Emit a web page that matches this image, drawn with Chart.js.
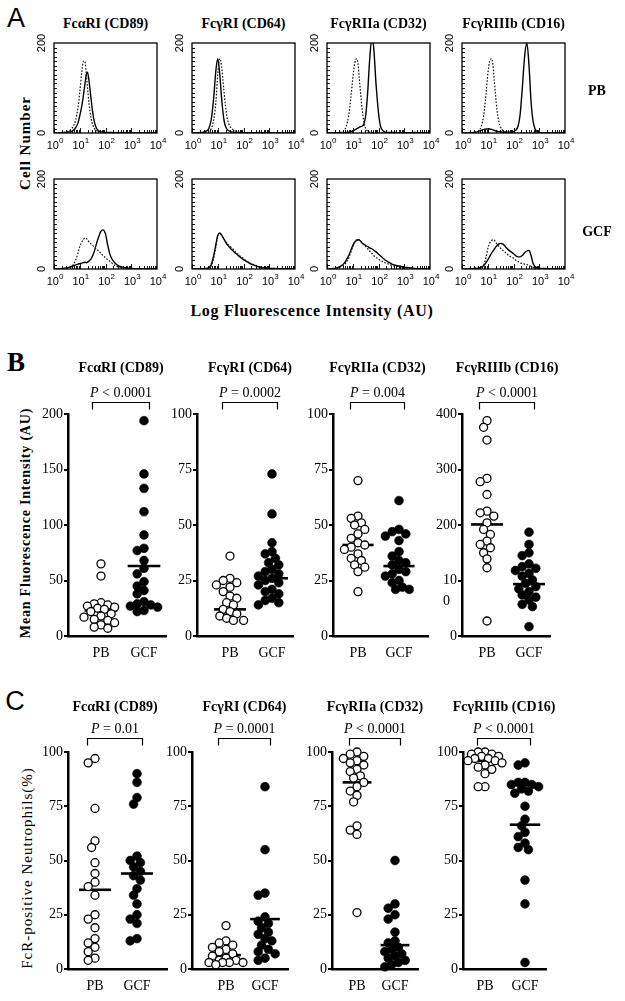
<!DOCTYPE html>
<html><head><meta charset="utf-8">
<script src="https://cdn.jsdelivr.net/npm/chart.js@4.4.1/dist/chart.umd.min.js"></script>
<style>
html,body{margin:0;padding:0;background:#fff;}
#page{position:relative;width:625px;height:1001px;overflow:hidden;background:#fff;}
#page canvas{position:absolute;}
.lbl{position:absolute;transform:translate(-50%,-50%);white-space:nowrap;font-family:'Liberation Serif',serif;color:#000;line-height:1;}
.rot{transform:translate(-50%,-50%) rotate(-90deg);}
</style></head><body><div id="page"></div>
<script>
// ---------------- DATA ----------------
const receptorTitles = ['FcαRI (CD89)', 'FcγRI (CD64)', 'FcγRIIa (CD32)', 'FcγRIIIb (CD16)'];
const groups = ['PB', 'GCF'];

// Panel A: histogram channels (AU, log scale) and cell counts
const histChannels = [1,1.3,1.7,2.2,2.8,3.5,4.5,5.6,7,8.5,10,12,14,16,18,20,23,27,32,38,45,55,65,80,100,120,150,180,220,270,330,400,480,580,700,850,1000,1500,2500,5000,10000];
const histYTicks = [0, 200];
const histXTicks = [1, 10, 100, 1000, 10000];
const histXTickExp = ['0','1','2','3','4'];

const histPB_CD89_ctrl  = [0,0,0,1,2,4,8,15,30,55,90,135,160,158,130,100,65,35,18,9,5,3,2,1,1,1,1,0.5,1,0.5,0.5,1,0.5,0.5,0,0.5,0,0,0,0,0];
const histPB_CD89_stain = [0,0,0,0,1,2,3,6,12,22,38,60,85,110,130,135,115,80,45,22,10,5,3,2,1,1,1,1,0.5,1,0.5,1,0.5,0.5,0,0.5,0,0,0,0,0];
const histPB_CD64_ctrl  = [0,0,0,0.5,1,2,4,10,30,70,130,165,150,115,85,60,35,20,12,8,5,3,2,2,1,1,1,1,1,1,1,2,1,1,1,0.5,0.5,0,0,0,0];
const histPB_CD64_stain = [0,0,0.5,1,2,4,10,30,80,140,165,130,80,45,25,15,8,5,3,2,1,1,1,1,0.5,0.5,0.5,0.5,0.5,0.5,0.5,1,0.5,0.5,0.5,0.5,0.5,0,0,0,0];
const histPB_CD32_ctrl  = [0,0,0,0.5,1,2,5,15,40,80,120,155,165,155,120,90,55,25,10,4,2,1,1,0.5,0.5,0.5,0.5,0.5,0.5,0.5,0.5,0.5,0,0,0,0,0,0,0,0,0];
const histPB_CD32_stain = [0,0,0,0,0,0,0,1,2,3,5,7,9,11,13,14,15,20,40,90,160,210,190,110,45,15,5,2,1,1,1,1,1,0.5,0.5,0.5,0.5,0.5,1,0.5,0];
const histPB_CD16_ctrl  = [0,0,0,0.5,1,2,5,15,40,85,130,160,165,150,115,85,50,25,12,6,3,2,1,1,1,1,0.5,0.5,0.5,0.5,0.5,0.5,0,0,0,0,0,0,0,0,0];
const histPB_CD16_stain = [0,0,0,0.5,1,2,4,6,8,9,9,9,8,7,6,5,4,3,3,2,2,2,2,2,3,6,15,40,100,170,200,150,70,25,8,3,1,0.5,0,0,0];
const histGCF_CD89_ctrl  = [0,0,0,0.5,1,2,4,10,20,35,50,60,66,69,68,65,60,56,52,48,44,40,35,30,25,21,17,13,9,6,4,2,1,1,0.5,0.5,0,0,0,0,0];
const histGCF_CD89_stain = [0,0,0.5,1,2,3,5,7,9,11,12,13,14,15,14,15,18,22,30,42,57,72,83,87,78,55,32,22,15,10,7,5,4,3,2,1,1,0.5,0,0,0];
const histGCF_CD64_ctrl  = [0,0,0,0,0.5,1,2,7,25,50,72,78,75,70,66,62,57,53,49,45,40,35,31,27,23,19,16,13,11,9,7,5,4,3,2.5,2,1.5,1,0.5,0,0];
const histGCF_CD64_stain = [0,0,0,0,0.5,1,3,10,30,55,75,80,76,70,65,60,55,50,45,41,37,33,29,25,21,18,15,12,10,8,6,5,4,3,2.5,2,1.5,1,0.5,0,0];
const histGCF_CD32_ctrl  = [0,0,0.5,1,3,5,9,15,25,38,50,60,65,66,65,62,58,54,50,45,40,35,30,26,22,19,16,14,12,10,8,7,6,5,4,3,2.5,2,1,0.5,0];
const histGCF_CD32_stain = [0,0,1,2,4,7,12,20,30,42,52,60,63,65,64,62,58,55,52,50,47,45,42,38,33,29,24,20,17,14,11,9,8,7,6,5,4,3,1.5,0.5,0];
const histGCF_CD16_ctrl  = [0,0,0,0.5,1,2,3,5,10,25,45,58,63,65,64,60,55,50,46,42,38,34,30,27,24,20,17,14,12,11,10,8,6,4,3,2,1.5,1,0.5,0,0];
const histGCF_CD16_stain = [0,0,0,0.5,1,1,2,4,8,14,20,28,35,40,44,48,52,56,57,56,52,46,42,38,34,30,27,27,30,36,40,41,30,12,5,3,2,1,0.5,0,0];

// Panel B: mean fluorescence intensity (AU)
const mfiPB_CD89  = [65,54,30,29,28,27,26,25,24,22,20,18,17,15,14,12,10,8,7];
const mfiGCF_CD89 = [194,146,133,112,91,79,77,68,61,56,49,45,41,38,31,29,28,27,26,23,22];
const mfiPB_CD64  = [36,26,25,24,23,22,20,18,17,15,14,12,11,10,9,8,7,7];
const mfiGCF_CD64 = [73,55,42,38,37,35,33,32,30,29,28,27,26,25,24,23,21,20,19,17,16,15,14];
const mfiPB_CD32  = [70,54,53,51,50,48,46,44,42,41,40,39,37,35,34,32,31,29,20];
const mfiGCF_CD32 = [61,48,47,46,45,43,38,36,34,33,32,30,29,28,27,25,24,22,21,21];
const mfiPB_CD16  = [388,376,353,284,278,255,225,222,216,204,192,183,171,165,159,150,139,123,27];
const mfiGCF_CD16 = [187,165,150,145,130,125,122,118,113,108,101,95,89,85,80,74,70,65,57,53,17];
const mfiMeanPB  = [23, 12, 41, 201];
const mfiMeanGCF = [63, 26, 31.5, 93.5];
const mfiPText = ['< 0.0001', '= 0.0002', '= 0.004', '< 0.0001'];
const mfiAxisMax = [200, 100, 100, 400];
const mfiTickStep = [50, 25, 25, 100];

// Panel C: FcR-positive neutrophils (%)
const pctPB_CD89  = [97,95,74,59,56,49,44,40,38,34,25,23,19,14,12,10,8,5,4];
const pctGCF_CD89 = [90,86,79,76,52,50,49,47,45,43,41,37,34,30,25,23,21,14,13];
const pctPB_CD64  = [20,13,12,11,10,9,8,7,6,5,4,4,3,3,3,3,2];
const pctGCF_CD64 = [84,55,35,34,24,22,21,19,17,16,14,13,11,9,8,7,5,4];
const pctPB_CD32  = [100,99,98,97,96,95,94,92,91,89,88,86,84,82,80,77,66,64,62,26];
const pctGCF_CD32 = [50,30,28,25,23,17,13,12,10,9,8,7,6,5,4,3,2,1];
const pctPB_CD16  = [100,100,99,99,98,98,97,97,96,96,95,94,93,92,90,84,84];
const pctGCF_CD16 = [95,94,86,86,85,85,84,83,82,81,75,69,66,63,61,58,56,55,41,30,3];
const pctMeanPB  = [36.5, 6.4, 86, 96];
const pctMeanGCF = [44, 23, 11, 66.5];
const pctPText = ['= 0.01', '= 0.0001', '< 0.0001', '< 0.0001'];
const pctAxisMax = [100, 100, 100, 100];
const pctTickStep = [25, 25, 25, 25];

// ---------------- HELPERS ----------------
const page = document.getElementById('page');
const SERIF = '"Liberation Serif", "Times New Roman", serif';
const SANS = '"Liberation Sans", Arial, sans-serif';

function addLabel(text, x, y, css, rot) {
  const d = document.createElement('div');
  d.className = 'lbl' + (rot ? ' rot' : '');
  d.textContent = text;
  d.style.left = x + 'px'; d.style.top = y + 'px';
  Object.assign(d.style, css || {});
  page.appendChild(d);
}
function addCanvas(left, top, w, h) {
  const c = document.createElement('canvas');
  c.width = w; c.height = h;
  c.style.left = left + 'px'; c.style.top = top + 'px';
  c.style.width = w + 'px'; c.style.height = h + 'px';
  page.appendChild(c);
  return c;
}

// ---------------- PANEL A ----------------
const histAxisPlugin = {
  id: 'histAxes',
  afterDraw(chart) {
    const {ctx, chartArea: a, scales: {x, y}} = chart;
    ctx.save();
    ctx.strokeStyle = '#000';
    ctx.lineWidth = 1.3;
    ctx.strokeRect(a.left, a.top, a.right - a.left, a.bottom - a.top);
    ctx.lineWidth = 0.9;
    ctx.beginPath();
    for (let v = 10; v < 200; v += 10) {
      const py = Math.round(y.getPixelForValue(v)) + 0.5;
      ctx.moveTo(a.left, py); ctx.lineTo(a.left + 3, py);
    }
    for (let d = 0; d < 4; d++) {
      for (let k = 1; k < 10; k++) {
        const px = Math.round(x.getPixelForValue(k * Math.pow(10, d))) + 0.5;
        const L = k === 1 ? 5 : 3;
        ctx.moveTo(px, a.bottom); ctx.lineTo(px, a.bottom - L);
      }
    }
    ctx.stroke();
    ctx.fillStyle = '#000';
    ctx.font = '11px ' + SANS;
    ctx.textAlign = 'center'; ctx.textBaseline = 'middle';
    histYTicks.forEach(v => {
      const py = y.getPixelForValue(v);
      ctx.save(); ctx.translate(a.left - 12, py); ctx.rotate(-Math.PI / 2);
      ctx.fillText(String(v), 0, 0); ctx.restore();
    });
    ctx.textAlign = 'left'; ctx.textBaseline = 'alphabetic';
    histXTicks.forEach((v, i) => {
      const px = x.getPixelForValue(v);
      ctx.font = '11px ' + SANS;
      const w = ctx.measureText('10').width;
      ctx.font = '8px ' + SANS;
      const ws = ctx.measureText(histXTickExp[i]).width;
      const start = px - (w + ws) / 2 + 1;
      ctx.font = '11px ' + SANS;
      ctx.fillText('10', start, a.bottom + 16);
      ctx.font = '8px ' + SANS;
      ctx.fillText(histXTickExp[i], start + w, a.bottom + 10);
    });
    ctx.restore();
  }
};

const histSets = [
  [histPB_CD89_ctrl, histPB_CD89_stain], [histPB_CD64_ctrl, histPB_CD64_stain],
  [histPB_CD32_ctrl, histPB_CD32_stain], [histPB_CD16_ctrl, histPB_CD16_stain],
  [histGCF_CD89_ctrl, histGCF_CD89_stain], [histGCF_CD64_ctrl, histGCF_CD64_stain],
  [histGCF_CD32_ctrl, histGCF_CD32_stain], [histGCF_CD16_ctrl, histGCF_CD16_stain]
];
const histCols = [54, 192, 327, 462];
const histRows = [43, 179];
const HW = 103, HH = 90, PL = 20, PT = 10, PR = 14, PBt = 20;

histSets.forEach((pair, idx) => {
  const r = Math.floor(idx / 4), c = idx % 4;
  const cv = addCanvas(histCols[c] - PL, histRows[r] - PT, HW + PL + PR, HH + PT + PBt);
  const toPts = arr => histChannels.map((ch, i) => ({x: ch, y: arr[i]}));
  new Chart(cv, {
    type: 'line',
    data: {datasets: [
      {data: toPts(pair[0]), borderColor: '#111', borderWidth: 1.2, borderDash: [1.6, 1.6], pointRadius: 0, cubicInterpolationMode: 'monotone'},
      {data: toPts(pair[1]), borderColor: '#000', borderWidth: 1.4, pointRadius: 0, cubicInterpolationMode: 'monotone'}
    ]},
    options: {
      responsive: false, animation: false, devicePixelRatio: 1,
      layout: {padding: {left: PL, top: PT, right: PR, bottom: PBt}},
      plugins: {legend: {display: false}, tooltip: {enabled: false}},
      scales: {
        x: {type: 'logarithmic', min: 1, max: 10000, display: false},
        y: {type: 'linear', min: 0, max: 200, display: false}
      }
    },
    plugins: [histAxisPlugin]
  });
});

receptorTitles.forEach((t, c) => {
  addLabel(t, histCols[c] + HW / 2, 24, {fontWeight: 'bold', fontSize: '14px'});
});
addLabel('PB', 597, 91, {fontWeight: 'bold', fontSize: '14px'});
addLabel('GCF', 597, 232, {fontWeight: 'bold', fontSize: '14px'});
addLabel('Cell Number', 25, 143, {fontWeight: 'bold', fontSize: '15px', letterSpacing: '1px'}, true);
addLabel('Log Fluorescence Intensity (AU)', 312, 311, {fontWeight: 'bold', fontSize: '16px', letterSpacing: '0.7px'});
addLabel('A', 16, 18, {fontFamily: SANS, fontSize: '27px'});
addLabel('B', 16, 362, {fontWeight: 'bold', fontSize: '27px'});
addLabel('C', 15, 701, {fontFamily: SANS, fontSize: '27px'});
addLabel('Mean Fluorescence Intensity (AU)', 26, 523, {fontWeight: 'bold', fontSize: '14px', letterSpacing: '0.8px'}, true);
addLabel('FcR-positive Neutrophils(%)', 27, 868, {fontSize: '15px', letterSpacing: '1px'}, true);

// ---------------- PANELS B & C ----------------
const dotAnnoPlugin = {
  id: 'dotAnno',
  afterDraw(chart, args, o) {
    const {ctx, scales: {x}} = chart;
    const x1 = Math.round(x.getPixelForValue(0.8)) + 0.5;
    const x2 = Math.round(x.getPixelForValue(2.12)) + 0.5;
    const cx = (x1 + x2) / 2;
    ctx.save();
    ctx.fillStyle = '#000'; ctx.strokeStyle = '#000';
    ctx.textBaseline = 'middle';
    ctx.textAlign = 'center';
    ctx.font = 'bold 14px ' + SERIF;
    ctx.fillText(o.title, cx, o.titleY);
    ctx.font = 'italic 14px ' + SERIF;
    const wP = ctx.measureText('P').width;
    ctx.font = '14px ' + SERIF;
    const rest = ' ' + o.p;
    const wR = ctx.measureText(rest).width;
    const sx = cx - (wP + wR) / 2;
    ctx.textAlign = 'left';
    ctx.font = 'italic 14px ' + SERIF;
    ctx.fillText('P', sx, o.pY);
    ctx.font = '14px ' + SERIF;
    ctx.fillText(rest, sx + wP, o.pY);
    ctx.lineWidth = 1.2;
    const by = Math.round(o.bracketY) + 0.5;
    ctx.beginPath();
    ctx.moveTo(x1, by + 7); ctx.lineTo(x1, by); ctx.lineTo(x2, by); ctx.lineTo(x2, by + 7);
    ctx.stroke();
    ctx.restore();
  }
};

// horizontal spreading of overlapping dots (layout only; values untouched)
function swarm(chart, center, vals, minD, step, maxOff) {
  const ys = chart.scales.y, xs = chart.scales.x;
  const unitPx = xs.getPixelForValue(2) - xs.getPixelForValue(1);
  const placed = [];
  const cands = [0];
  for (let i = 1; i * step <= maxOff; i++) cands.push(-i * step, i * step);
  return vals.map(v => {
    const py = ys.getPixelForValue(v);
    let best = 0, bestD = -1;
    for (const c of cands) {
      let d = Infinity;
      placed.forEach(p => { d = Math.min(d, Math.hypot(p[0] - c, p[1] - py)); });
      if (d >= minD) { best = c; break; }
      if (d > bestD) { bestD = d; best = c; }
    }
    placed.push([best, py]);
    return {x: center + best / unitPx, y: v};
  });
}

const mfiSets = [[mfiPB_CD89, mfiGCF_CD89], [mfiPB_CD64, mfiGCF_CD64], [mfiPB_CD32, mfiGCF_CD32], [mfiPB_CD16, mfiGCF_CD16]];
const pctSets = [[pctPB_CD89, pctGCF_CD89], [pctPB_CD64, pctGCF_CD64], [pctPB_CD32, pctGCF_CD32], [pctPB_CD16, pctGCF_CD16]];

const bLayout = {canvasTop: 355, areaTop: 414, areaBase: 636, titleY: 368, pY: 393, bracketY: 402,
  cols: [{axisX: 68, xEnd: 166, pbX: 101, gcfX: 144}, {axisX: 197, xEnd: 293, pbX: 230, gcfX: 272},
         {axisX: 333, xEnd: 428, pbX: 358, gcfX: 399}, {axisX: 462, xEnd: 550, pbX: 487, gcfX: 529}]};
const cLayout = {canvasTop: 692, areaTop: 752, areaBase: 969, titleY: 707, pY: 729, bracketY: 738,
  cols: [{axisX: 68, xEnd: 167, pbX: 95, gcfX: 137}, {axisX: 192, xEnd: 288, pbX: 226, gcfX: 265},
         {axisX: 332, xEnd: 418, pbX: 357, gcfX: 395}, {axisX: 463, xEnd: 546, pbX: 485, gcfX: 525}]};

const YAW = 42, XAH = 30, RPAD = 22;

function makeDotPanel(L, sets, meansPB, meansGCF, pTexts, maxes, steps) {
  sets.forEach((pair, c) => {
    const col = L.cols[c];
    const left = col.axisX - YAW;
    const w = col.xEnd - left + RPAD;
    const h = L.areaBase - L.canvasTop + XAH;
    const cv = addCanvas(left, L.canvasTop, w, h);
    const unit = col.gcfX - col.pbX;
    const xMin = 1 - (col.pbX - col.axisX) / unit;
    const xMax = 1 + (col.xEnd - col.pbX) / unit;
    const tickFont = {family: SERIF, size: 14};
    const meanLine = (cx, m) => [{x: cx - 0.38, y: m}, {x: cx + 0.38, y: m}];
    const chart = new Chart(cv, {
      type: 'scatter',
      data: {datasets: [
        {data: pair[0].map(v => ({x: 1, y: v})), pointRadius: 4, pointHoverRadius: 4, backgroundColor: '#fff', borderColor: '#000', borderWidth: 1.3, clip: false},
        {data: pair[1].map(v => ({x: 2, y: v})), pointRadius: 4.4, pointHoverRadius: 4.4, backgroundColor: '#000', borderColor: '#000', borderWidth: 0.6, clip: false},
        {type: 'line', data: meanLine(1, meansPB[c]), borderColor: '#000', borderWidth: 2.6, pointRadius: 0, clip: false},
        {type: 'line', data: meanLine(2, meansGCF[c]), borderColor: '#000', borderWidth: 2.6, pointRadius: 0, clip: false}
      ]},
      options: {
        responsive: false, animation: false, devicePixelRatio: 1,
        layout: {padding: {left: 0, top: L.areaTop - L.canvasTop, right: RPAD, bottom: 0}},
        plugins: {legend: {display: false}, tooltip: {enabled: false},
          dotAnno: {title: receptorTitles[c], p: pTexts[c], titleY: L.titleY - L.canvasTop, pY: L.pY - L.canvasTop, bracketY: L.bracketY - L.canvasTop}},
        scales: {
          x: {type: 'linear', min: xMin, max: xMax,
              afterFit: s => { s.height = XAH; },
              afterBuildTicks: s => { s.ticks = [{value: 1}, {value: 2}]; },
              ticks: {callback: v => groups[v - 1], font: tickFont, color: '#000', padding: 9, autoSkip: false, maxRotation: 0},
              grid: {display: false, drawTicks: false},
              border: {display: true, width: 2.5, color: '#000'}},
          y: {type: 'linear', min: 0, max: maxes[c],
              afterFit: s => { s.width = YAW; },
              ticks: {stepSize: steps[c], autoSkip: false, font: Object.assign({lineHeight: 1.5}, tickFont), color: '#000', padding: 1,
                      callback: v => (maxes[c] === 400 && v === 100) ? ['', '10', '0  '] : String(v)},
              grid: {display: true, drawOnChartArea: false, drawTicks: true, tickLength: 4, lineWidth: 2, color: '#000'},
              border: {display: true, width: 2.5, color: '#000'}}
        }
      },
      plugins: [dotAnnoPlugin]
    });
    chart.data.datasets[0].data = swarm(chart, 1, pair[0], 6.8, 3.4, 17);
    chart.data.datasets[1].data = swarm(chart, 2, pair[1], 6.8, 3.4, 17);
    chart.update('none');
  });
}

makeDotPanel(bLayout, mfiSets, mfiMeanPB, mfiMeanGCF, mfiPText, mfiAxisMax, mfiTickStep);
makeDotPanel(cLayout, pctSets, pctMeanPB, pctMeanGCF, pctPText, pctAxisMax, pctTickStep);
</script>
</body></html>
